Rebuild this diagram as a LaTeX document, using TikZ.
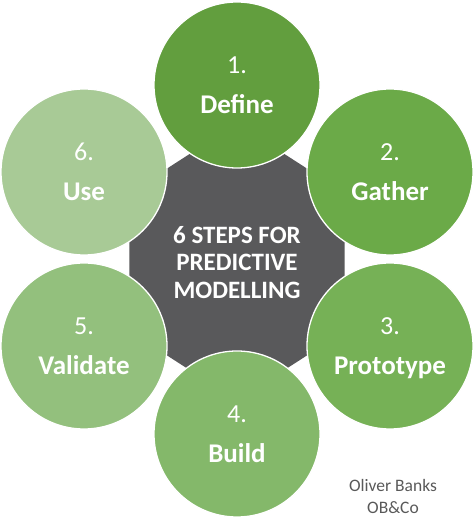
\documentclass[tikz,border=0pt]{standalone}
\usepackage{fontspec}
\setmainfont{Carlito}
\definecolor{hexgray}{RGB}{89,89,91}
\definecolor{gA}{RGB}{98,158,62}
\definecolor{gB}{RGB}{107,170,72}
\definecolor{gC}{RGB}{118,177,86}
\definecolor{gD}{RGB}{132,184,106}
\definecolor{gE}{RGB}{147,192,125}
\definecolor{gF}{RGB}{168,202,150}
\definecolor{authorgray}{RGB}{89,89,89}
\tikzset{
  stepcircle/.style={circle, minimum size=166pt, inner sep=0pt, draw=white, line width=1.3pt},
  numlabel/.style={text=white, anchor=base, inner sep=0pt, font=\fontsize{26}{30}\selectfont},
  namelabel/.style={text=white, anchor=base, inner sep=0pt, font=\fontsize{27}{31}\selectfont\bfseries},
  centerlabel/.style={text=white, align=center, inner sep=0pt, font=\fontsize{25}{27.5}\selectfont\bfseries},
  authorlabel/.style={text=authorgray, align=center, inner sep=0pt, font=\fontsize{17.5}{22}\selectfont},
}
\begin{document}
\begin{tikzpicture}[x=1pt,y=1pt]
\useasboundingbox (0,0) rectangle (474,528);
% central twelve-sided shape
\begin{scope}[shift={(237,266)}, yscale=1.116]
\fill[hexgray] (15:111.3) \foreach \a in {45,75,...,345}{ -- (\a:111.3)} -- cycle;
\end{scope}
\coordinate (hub) at (237,265.5);
% circles
\node[stepcircle, fill=gA] (s1) at (237,443) {};
\node[stepcircle, fill=gB] (s2) at (390,356) {};
\node[stepcircle, fill=gC] (s3) at (390,182) {};
\node[stepcircle, fill=gD] (s4) at (237,94) {};
\node[stepcircle, fill=gE] (s5) at (84,182) {};
\node[stepcircle, fill=gF] (s6) at (84,356) {};
% labels
\node[numlabel] (n1) at ([yshift=11.5pt]s1.center) {1.};
\node[namelabel] (t1) at ([yshift=-28.5pt]s1.center) {Define};
\node[numlabel] (n2) at ([yshift=11.5pt]s2.center) {2.};
\node[namelabel] (t2) at ([yshift=-28.5pt]s2.center) {Gather};
\node[numlabel] (n3) at ([yshift=11.5pt]s3.center) {3.};
\node[namelabel] (t3) at ([yshift=-28.5pt]s3.center) {Prototype};
\node[numlabel] (n4) at ([yshift=11.5pt]s4.center) {4.};
\node[namelabel] (t4) at ([yshift=-28.5pt]s4.center) {Build};
\node[numlabel] (n5) at ([yshift=11.5pt]s5.center) {5.};
\node[namelabel] (t5) at ([yshift=-28.5pt]s5.center) {Validate};
\node[numlabel] (n6) at ([yshift=11.5pt]s6.center) {6.};
\node[namelabel] (t6) at ([yshift=-28.5pt]s6.center) {Use};
\node[centerlabel] (title) at (hub) {6 STEPS FOR\\PREDICTIVE\\MODELLING};
\node[authorlabel] (author) at (393,32) {Oliver Banks\\OB\&Co};
\end{tikzpicture}
\end{document}
